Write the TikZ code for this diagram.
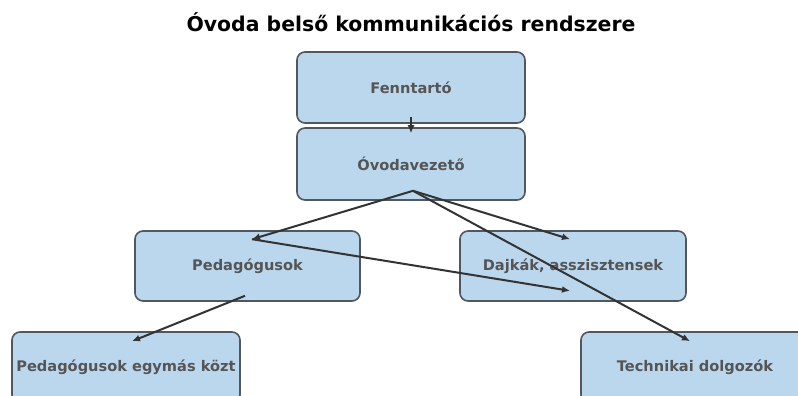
\documentclass[tikz,border=0pt]{standalone}
\usepackage{fontspec}
\setmainfont{DejaVu Sans}
\usetikzlibrary{arrows.meta,calc}
\definecolor{boxfill}{HTML}{BBD7EE}
\definecolor{boxline}{HTML}{50575E}
\definecolor{txt}{HTML}{555555}
\begin{document}
\begin{tikzpicture}[x=1pt,y=-1pt,
  box/.style={draw=boxline, line width=1.6pt, fill=boxfill, rounded corners=8pt, inner sep=0pt,
              font=\bfseries\fontsize{14.6}{17}\selectfont, text=txt},
  conn/.style={draw=black!80, line width=2pt, -{Latex[length=8pt,width=7pt]}}]
\useasboundingbox (0,0) rectangle (798,396);
\clip (0,0) rectangle (798,396);
\node[font=\bfseries\fontsize{20.4}{24}\selectfont] (title) at (411,22) {Óvoda belső kommunikációs rendszere};
\node[box, minimum width=228pt, minimum height=71pt] (fenn) at (411,87.5) {Fenntartó};
\node[box, minimum width=228pt, minimum height=72pt] (ovoda) at (411,164) {Óvodavezető};
\node[box, minimum width=225pt, minimum height=70pt] (pedag) at (247.5,266) {Pedagógusok};
\node[box, minimum width=226pt, minimum height=70pt] (dajka) at (573,266) {Dajkák, asszisztensek};
\node[box, minimum width=228pt, minimum height=71pt] (egy) at (126,367.5) {Pedagógusok egymás közt};
\node[box, minimum width=228pt, minimum height=71pt] (tech) at (695,367.5) {Technikai dolgozók};
\coordinate (o1) at ([xshift=2pt,yshift=10pt]ovoda.south);
\coordinate (p1) at ([xshift=4.5pt,yshift=-9pt]pedag.north);
\coordinate (d1) at ([xshift=-3pt,yshift=-9pt]dajka.north);
\coordinate (d2) at ([xshift=-3pt,yshift=11pt]dajka.south);
\coordinate (p2) at ([xshift=-2.5pt,yshift=6pt]pedag.south);
\coordinate (e1) at ([xshift=6pt,yshift=-10pt]egy.north);
\coordinate (t1) at ([xshift=-5pt,yshift=-10pt]tech.north);
\draw[conn] ([yshift=7pt]fenn.south) -- ([yshift=-6pt]ovoda.north);
\draw[conn] (o1) -- (p1);
\draw[conn] (o1) -- (d1);
\draw[conn] (o1) -- (t1);
\draw[conn] (p1) -- (d2);
\draw[conn] (p2) -- (e1);
\end{tikzpicture}
\end{document}
